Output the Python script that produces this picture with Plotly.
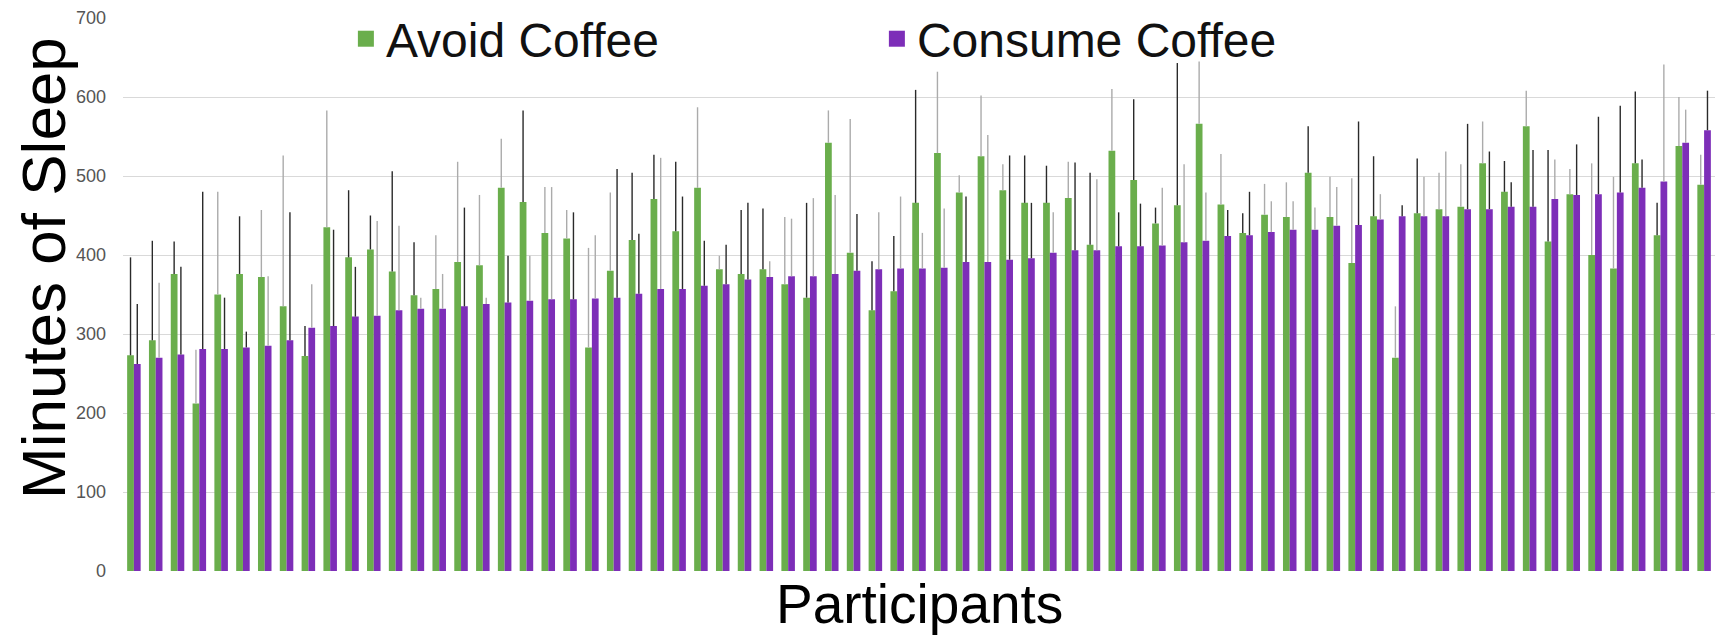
import plotly.graph_objects as go

participants = [str(i) for i in range(1, 74)]

avoid_coffee = [273, 292, 376, 212, 350, 376, 372, 335, 272, 435, 397, 407,
                379, 349, 357, 391, 387, 485, 467, 428, 421, 283, 380, 419,
                471, 430, 485, 382, 376, 382, 363, 346, 542, 403, 330, 354,
                466, 529, 479, 525, 482, 466, 466, 472, 413, 532, 495, 440,
                463, 566, 464, 428, 451, 448, 504, 448, 390, 449, 270, 453,
                458, 461, 516, 480, 563, 417, 477, 400, 383, 516, 425, 538, 489]

avoid_upper = [397, 418, 417, 280, 480, 449, 457, 526, 310, 583, 482, 450,
               506, 416, 425, 518, 476, 547, 583, 486, 457, 409, 479, 504,
               527, 518, 587, 399, 457, 459, 448, 466, 583, 572, 392, 424,
               609, 632, 501, 602, 515, 526, 513, 518, 504, 610, 597, 460,
               643, 645, 528, 453, 490, 492, 563, 499, 497, 525, 335, 522,
               504, 515, 569, 519, 608, 533, 509, 516, 499, 607, 466, 600, 527]

consume_coffee = [262, 270, 274, 281, 281, 283, 285, 292, 308, 310, 322, 323,
                  330, 332, 332, 335, 338, 340, 342, 344, 344, 345, 346, 351,
                  357, 357, 361, 363, 369, 372, 373, 373, 376, 380, 382, 383,
                  383, 384, 391, 391, 394, 396, 403, 406, 406, 411, 411, 412,
                  416, 418, 424, 425, 429, 432, 432, 437, 438, 445, 449, 449,
                  449, 458, 458, 461, 461, 471, 476, 477, 479, 485, 493, 542, 558]

consume_upper = [338, 365, 385, 480, 346, 303, 373, 454, 363, 432, 385, 443,
                 437, 346, 376, 460, 346, 399, 399, 486, 454, 425, 509, 427,
                 523, 474, 418, 413, 466, 392, 446, 472, 476, 452, 454, 474,
                 428, 459, 474, 552, 526, 466, 454, 517, 496, 454, 465, 485,
                 515, 479, 457, 480, 468, 468, 460, 486, 569, 477, 463, 499,
                 531, 566, 531, 492, 533, 521, 540, 575, 589, 521, 641, 584, 608]

# 1 = whisker drawn dark, 0 = whisker drawn light grey
avoid_dark = [1, 1, 1, 0, 0, 1, 0, 0, 1, 0, 1, 1,
              1, 1, 0, 0, 0, 0, 1, 0, 0, 0, 0, 1,
              1, 1, 0, 0, 1, 1, 0, 1, 0, 0, 1, 1,
              1, 0, 0, 0, 0, 1, 1, 0, 1, 0, 1, 1,
              1, 0, 0, 1, 0, 0, 1, 0, 0, 1, 0, 1,
              0, 0, 0, 1, 0, 1, 0, 0, 0, 1, 1, 0, 0]

consume_dark = [1, 0, 1, 1, 1, 1, 0, 1, 0, 1, 1, 0,
                0, 0, 0, 1, 0, 1, 0, 0, 1, 0, 1, 1,
                0, 1, 1, 1, 1, 0, 0, 0, 0, 1, 0, 0,
                0, 0, 1, 0, 1, 1, 0, 1, 0, 1, 1, 0,
                0, 0, 1, 1, 0, 0, 0, 0, 1, 0, 1, 0,
                0, 1, 1, 1, 1, 0, 1, 1, 1, 1, 0, 0, 1]

y_ticks = [0, 100, 200, 300, 400, 500, 600, 700]

GREEN = "#6aae4c"
PURPLE = "#7d2eb8"
DARK = "#2a2a2a"
LIGHT = "#ababab"
FONT = "Liberation Sans, Arial, sans-serif"


def err_part(values, upper, flags, want):
    return [(u - v) if f == want else 0 for v, u, f in zip(values, upper, flags)]


fig = go.Figure()

for name, vals, upper, flags, color, grp in [
    ("Avoid Coffee", avoid_coffee, avoid_upper, avoid_dark, GREEN, "avoid"),
    ("Consume Coffee", consume_coffee, consume_upper, consume_dark, PURPLE, "consume"),
]:
    fig.add_trace(go.Bar(
        x=participants, y=vals, name=name, offsetgroup=grp,
        marker=dict(color=color, line=dict(width=0)),
        showlegend=False,
        error_y=dict(type="data", symmetric=False,
                     array=err_part(vals, upper, flags, 1),
                     arrayminus=[0] * len(vals),
                     color=DARK, thickness=1.4, width=0),
    ))
    fig.add_trace(go.Bar(
        x=participants, y=vals, name=name, offsetgroup=grp,
        marker=dict(color="rgba(0,0,0,0)", line=dict(width=0)),
        showlegend=False,
        error_y=dict(type="data", symmetric=False,
                     array=err_part(vals, upper, flags, 0),
                     arrayminus=[0] * len(vals),
                     color=LIGHT, thickness=1.4, width=0),
    ))

# legend entries
for name, color in [("Avoid Coffee", GREEN), ("Consume Coffee", PURPLE)]:
    fig.add_trace(go.Scatter(
        x=[None], y=[None], mode="markers", name=name,
        marker=dict(symbol="square", size=22, color=color),
        showlegend=True,
    ))

fig.update_layout(
    width=1721, height=638,
    margin=dict(l=123, r=6, t=18, b=67, autoexpand=False),
    paper_bgcolor="white", plot_bgcolor="white",
    barmode="group", bargap=0.38, bargroupgap=0,
    font=dict(family=FONT, color="#000000"),
    showlegend=True,
    legend=dict(
        orientation="h", x=0.1400, xanchor="left", y=0.962, yanchor="middle",
        font=dict(size=48, family=FONT, color="#111111"),
        bgcolor="rgba(0,0,0,0)", entrywidth=486, itemsizing="trace",
        traceorder="normal",
    ),
    xaxis=dict(
        type="category", showticklabels=False, ticks="", showgrid=False,
        zeroline=False, showline=False,
    ),
    yaxis=dict(
        range=[0, 700], tickvals=y_ticks, ticktext=[str(t) for t in y_ticks],
        showgrid=True, gridcolor="#d9d9d9", gridwidth=1, zeroline=False,
        showline=False, ticks="", ticklabelstandoff=16,
        tickfont=dict(size=18, family=FONT, color="#555555"),
    ),
    annotations=[
        dict(text="Minutes of Sleep", xref="paper", yref="paper",
             x=-0.0496, y=0.548, xanchor="center", yanchor="middle",
             textangle=-90, showarrow=False,
             font=dict(size=62, family=FONT, color="#000000")),
        dict(text="Participants", xref="paper", yref="paper",
             x=0.5, y=-0.06, xanchor="center", yanchor="middle",
             showarrow=False,
             font=dict(size=55, family=FONT, color="#000000")),
    ],
)

fig.write_html(
    "out.html",
    config={"displayModeBar": False},
    post_script="document.body.style.margin='0px';document.body.style.overflow='hidden';",
)
